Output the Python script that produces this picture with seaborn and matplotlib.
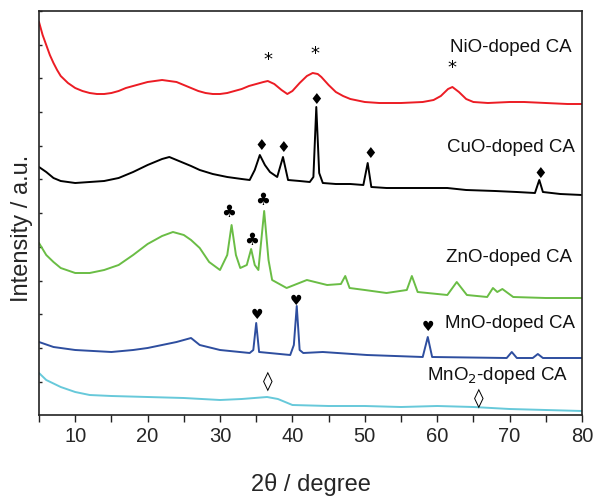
import numpy as np
import pandas as pd
import matplotlib
matplotlib.use('Agg')
import matplotlib.pyplot as plt
import seaborn as sns

# XRD patterns (intensity in a.u., already offset)
nio_x = [5.0, 5.5, 6.0, 6.5, 7.0, 7.5, 8.0, 9.0, 10.0, 11.0, 12.0, 13.0, 14.0, 15.0, 16.0, 17.0,
         18.0, 19.0, 20.0, 21.0, 22.0, 23.0, 24.0, 25.0, 26.0, 27.0, 28.0, 29.0, 30.0, 31.0, 32.0,
         33.0, 34.0, 35.0, 36.0, 36.6, 37.5, 38.5, 39.3, 40.0, 41.0, 42.0, 42.8, 43.5, 44.0, 45.0,
         46.0, 47.0, 48.0, 50.0, 52.0, 55.0, 58.0, 59.5, 60.5, 61.5, 62.1, 63.0, 64.0, 65.0, 67.0,
         70.0, 72.0, 75.0, 78.0, 80.0]
nio_y = [393, 380, 370, 360, 352, 345, 339, 332, 327, 324, 322, 321, 321, 322, 324, 327,
         329, 331, 333, 334, 335, 334, 333, 330, 327, 324, 322, 321, 321, 322, 324,
         326, 329, 331, 333, 334, 331, 325, 321, 324, 332, 339, 342, 341, 338, 330,
         323, 319, 316, 313, 312, 312, 313, 315, 319, 326, 328, 323, 316, 313, 312,
         313, 313, 312, 311, 311]

cuo_x = [5, 6, 7, 8, 10, 12, 14, 16, 18, 20, 22, 23, 24, 25, 26, 27.2, 29, 31, 33, 34.1, 34.8,
         35.5, 36.2, 36.9, 37.9, 38.7, 39.4, 41, 42.4, 42.9, 43.3, 43.7, 44.2, 46, 48, 49.8,
         50.4, 50.9, 53, 55, 58, 61.4, 64, 68, 71, 73.5, 74.1, 74.6, 77, 80]
cuo_y = [248, 243, 237, 234, 232, 233, 234, 237, 243, 250, 256, 258, 255, 252, 249, 245, 241,
         238, 236, 235, 245, 260, 250, 243, 238, 258, 235, 234, 233, 238, 308, 242, 232, 231,
         231, 230, 252, 228, 227, 227, 227, 227, 225, 224, 223, 222, 235, 223, 221, 220]

zno_x = [5, 6, 7, 8, 10, 12, 14, 16, 18, 20, 22, 23.5, 25, 26, 27.2, 28.5, 30, 31, 31.6, 32.2,
         32.8, 33.7, 34.3, 34.8, 35.3, 36.1, 36.7, 37.2, 39.2, 42, 44.8, 46.7, 47.3, 47.9, 50,
         53, 55.8, 56.5, 57.3, 61.4, 62.7, 64.1, 66.9, 67.7, 68.3, 69, 70.5, 75, 80]
zno_y = [172, 160, 153, 147, 142, 142, 145, 150, 160, 171, 179, 183, 180, 175, 167, 153, 145,
         160, 190, 160, 147, 150, 166, 150, 145, 204, 155, 135, 127, 135, 130, 131, 139, 127,
         125, 122, 125, 139, 123, 120, 133, 120, 118, 127, 123, 126, 118, 117, 117]

mno_x = [5, 7, 10, 15, 18, 20, 22, 24, 26, 27.2, 30, 34.1, 34.6, 35, 35.4, 39.7, 40.2, 40.6,
         41, 41.5, 44.2, 50.3, 58, 58.7, 59.3, 69.6, 70.3, 71, 73.2, 73.9, 74.6, 80]
mno_y = [73, 68, 65, 63, 65, 67, 70, 73, 77, 70, 65, 62, 65, 92, 63, 60, 70, 109,
         65, 62, 63, 60, 58, 78, 58, 57, 63, 57, 57, 61, 57, 57]

mno2_x = [5, 6, 8, 10, 12, 15, 20, 25, 30, 33, 36.5, 38, 40, 45, 50, 55, 60, 65, 70, 75, 80]
mno2_y = [42, 35, 28, 23, 20, 19, 18, 17, 15, 16, 18, 16, 10, 9, 9, 8, 9, 8, 6, 5, 4]

samples = ['NiO-doped CA', 'CuO-doped CA', 'ZnO-doped CA', 'MnO-doped CA', 'MnO$_2$-doped CA']
label_x = [78.6, 79.0, 78.6, 79.0, 78.1]
label_y = [368, 267, 157, 92, 40]
colores = ['#ec1c24', '#000000', '#6abd45', '#2e4e9f', '#67c9da']

# marcas de las fases
marca_sym = ['*', '*', '*',
             '\u2666', '\u2666', '\u2666', '\u2666', '\u2666',
             '\u2663', '\u2663', '\u2663',
             '\u2665', '\u2665', '\u2665',
             '\u25ca', '\u25ca']
marca_x = [36.6, 43.1, 62.0,
           35.7, 38.7, 43.3, 50.7, 74.2,
           31.2, 34.3, 35.9,
           35.1, 40.5, 58.7,
           36.6, 65.8]
marca_y = [355, 361, 347,
           269, 268, 316, 261, 242,
           203, 175, 215,
           100, 114, 88,
           34, 17]
marca_size = [13, 13, 13, 11, 11, 11, 11, 11, 12, 12, 12, 10, 10, 10, 14, 14]

frames = []
for nombre, xs, ys in zip(samples, [nio_x, cuo_x, zno_x, mno_x, mno2_x],
                          [nio_y, cuo_y, zno_y, mno_y, mno2_y]):
    frames.append(pd.DataFrame({'two_theta': xs, 'intensity': ys, 'sample': nombre}))
df = pd.concat(frames, ignore_index=True)

sns.set_theme(style='ticks')
plt.rcParams['font.family'] = ['Liberation Sans', 'DejaVu Sans']

fig = plt.figure(figsize=(5.96, 4.98), dpi=100)
ax = fig.add_axes([39 / 596, 83 / 498, 543 / 596, 404 / 498])

sns.lineplot(data=df, x='two_theta', y='intensity', hue='sample', units='sample',
             estimator=None, sort=False, palette=dict(zip(samples, colores)),
             linewidth=1.4, legend=False, ax=ax)

for nombre, lx, ly in zip(samples, label_x, label_y):
    ax.text(lx, ly, nombre, ha='right', va='center', fontsize=13.5, color='#111111')

for s, mx, my, ms in zip(marca_sym, marca_x, marca_y, marca_size):
    ax.text(mx, my, s, ha='center', va='center', fontsize=ms, color='black',
            family=['DejaVu Sans'])

ax.set_xlim(5, 80)
ax.set_ylim(0, 404)
ax.set_xticks(np.arange(10, 81, 10))
ax.set_xticks(np.arange(5, 81, 5), minor=True)
ax.set_yticks(404 - 33.7 * np.arange(12))
ax.set_yticklabels([])
ax.tick_params(axis='x', which='both', direction='out', length=5, width=1,
               labelsize=14.5, color='#222222')
ax.tick_params(axis='y', which='both', direction='in', length=2, width=1, right=False)
for lado in ax.spines.values():
    lado.set_linewidth(1.2)
    lado.set_color('#222222')

ax.set_xlabel('2\u03b8 / degree', fontsize=17)
ax.set_ylabel('Intensity / a.u.', fontsize=17)
ax.xaxis.set_label_coords(0.5, -0.173)
ax.yaxis.set_label_coords(-0.031, 0.463)
ax.xaxis.label.set_va('center')
ax.yaxis.label.set_va('center')

fig.savefig('out.png', dpi=100)
